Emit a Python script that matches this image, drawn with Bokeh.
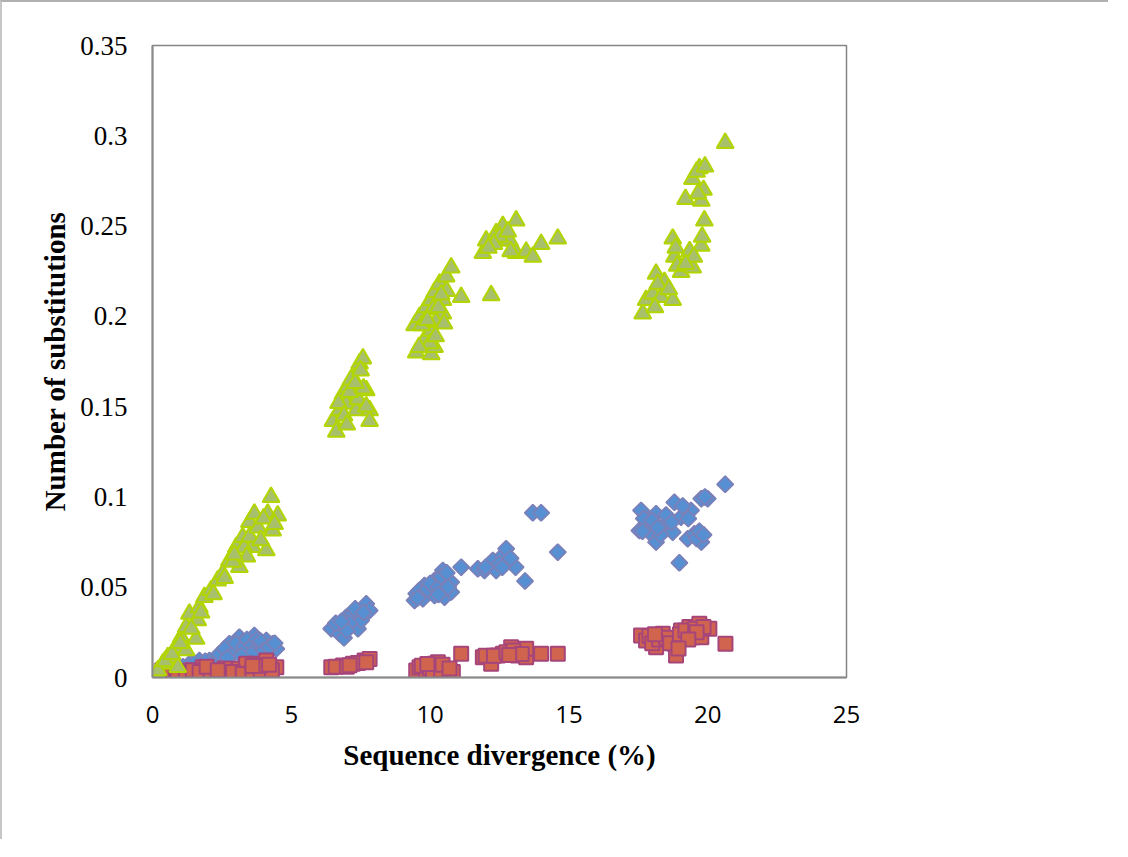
import math
from bokeh.plotting import figure
from bokeh.models import Range1d, FixedTicker
from bokeh.embed import file_html
from bokeh.resources import INLINE

# ---- data ----
blue_x = [0.61, 0.97, 1.33, 1.69, 2.05, 2.29, 2.53, 2.77, 3.02, 3.13, 3.25, 3.49, 3.67, 3.85, 4.1, 4.33, 4.46,
          1.1, 1.5, 1.9, 2.4, 2.6, 2.9, 3.0, 3.3, 3.4, 3.6, 3.75, 3.9, 4.0, 4.2, 3.55, 3.2, 2.7, 4.4,
          6.44, 6.74, 6.98, 6.98, 7.22, 7.4, 7.52, 7.7, 7.82,
          6.6, 6.9, 7.1, 7.3, 7.6, 7.0, 6.8,
          9.44, 9.5, 9.74, 9.8, 10.16, 10.16, 10.46, 10.52, 10.76, 10.76,
          9.6, 9.9, 10.0, 10.3, 10.4, 10.6, 10.3, 9.55, 10.65,
          11.12, 11.72, 11.96, 12.26, 12.38, 12.62, 12.74, 13.08, 13.42, 13.7, 14.0, 14.6,
          12.5, 12.6, 12.9, 12.0,
          17.54, 17.6, 17.78, 17.9, 18.14, 18.14, 18.38, 18.56, 18.74, 18.8, 18.98, 19.04, 19.28, 19.4,
          19.52, 19.77, 19.77, 20.0, 20.63,
          17.7, 18.0, 18.3, 18.5, 18.7, 19.1, 19.3, 19.6, 19.7, 19.85, 18.2, 17.65, 19.9]
blue_y = [0.0039, 0.0057, 0.0076, 0.0094, 0.0094, 0.0094, 0.0112, 0.0187, 0.0159, 0.0223, 0.0196, 0.015, 0.0233,
          0.0168, 0.0205, 0.0187, 0.0159,
          0.006, 0.008, 0.009, 0.013, 0.016, 0.013, 0.019, 0.017, 0.021, 0.018, 0.021, 0.02, 0.015, 0.017, 0.013,
          0.012, 0.011, 0.019,
          0.027, 0.0242, 0.0279, 0.0334, 0.0353, 0.027, 0.0316, 0.0408, 0.0371,
          0.03, 0.022, 0.03, 0.038, 0.036, 0.026, 0.031,
          0.0427, 0.0464, 0.0436, 0.051, 0.0537, 0.0454, 0.0593, 0.0445, 0.0528, 0.0473,
          0.048, 0.049, 0.052, 0.05, 0.056, 0.058, 0.046, 0.044, 0.05,
          0.0611, 0.0602, 0.0593, 0.0648, 0.0593, 0.0676, 0.0713, 0.0611, 0.0534, 0.0912, 0.0912, 0.0694,
          0.063, 0.061, 0.066, 0.061,
          0.0814, 0.0925, 0.0851, 0.0805, 0.0907, 0.075, 0.0833, 0.086, 0.0805, 0.097, 0.0635, 0.0888, 0.0768,
          0.0925, 0.0796, 0.099, 0.075, 0.099, 0.107,
          0.088, 0.087, 0.079, 0.09, 0.086, 0.095, 0.088, 0.077, 0.081, 0.079, 0.083, 0.081, 0.1]

red_x = [0.0, 0.25, 0.73, 1.09, 1.33, 1.57, 1.81, 1.93, 2.29, 2.77, 3.02, 3.13, 3.37, 3.49, 3.74, 4.1, 4.1, 4.46,
         0.5, 0.9, 1.2, 1.45, 1.7, 2.1, 2.5, 2.6, 2.9, 3.25, 3.6, 3.9, 4.3, 3.85, 4.2, 3.6, 1.95, 2.35, 0.35,
         6.44, 6.86, 7.22, 7.64, 7.82,
         6.6, 7.0, 7.4, 7.7, 7.1,
         9.5, 9.62, 9.86, 10.16, 10.28, 10.58, 10.82, 11.12,
         9.7, 10.0, 10.1, 10.4, 10.45, 9.9, 10.7,
         11.9, 12.2, 12.44, 12.62, 12.92, 13.16, 13.46, 13.46, 14.0, 14.6,
         12.0, 12.3, 12.75, 13.0, 13.3, 12.85,
         17.6, 17.78, 18.14, 18.38, 18.8, 18.86, 19.04, 19.34, 19.46, 19.7, 19.77, 20.06, 20.64,
         17.9, 18.0, 18.25, 18.5, 18.65, 19.0, 19.2, 19.55, 19.85, 19.6, 18.1, 19.3, 18.95]
red_y = [0.0, 0.002, 0.0, 0.001, 0.0039, 0.002, 0.0057, 0.002, 0.0, 0.0039, 0.001, 0.0048, 0.0076, 0.002, 0.0076,
         0.003, 0.0094, 0.0057,
         0.001, 0.003, 0.002, 0.004, 0.003, 0.002, 0.002, 0.005, 0.003, 0.002, 0.003, 0.004, 0.004, 0.0065, 0.007,
         0.0063, 0.006, 0.004, 0.004,
         0.0057, 0.0066, 0.0076, 0.0094, 0.0103,
         0.006, 0.006, 0.008, 0.0085, 0.0068,
         0.0039, 0.0057, 0.0039, 0.0076, 0.0085, 0.003, 0.003, 0.0131,
         0.0065, 0.005, 0.003, 0.004, 0.007, 0.0075, 0.005,
         0.0112, 0.0076, 0.0122, 0.0131, 0.0168, 0.0122, 0.0112, 0.0159, 0.0131, 0.0131,
         0.012, 0.012, 0.014, 0.015, 0.013, 0.0125,
         0.0233, 0.0205, 0.0168, 0.0242, 0.0187, 0.0122, 0.026, 0.0279, 0.0223, 0.0297, 0.0223, 0.027, 0.0187,
         0.023, 0.019, 0.021, 0.022, 0.019, 0.024, 0.026, 0.027, 0.028, 0.025, 0.024, 0.021, 0.016]

green_x = [0.01, 0.13, 0.37, 0.55, 0.85, 0.91, 1.03, 1.21, 1.21, 1.33, 1.57, 1.63, 1.69, 1.87, 2.11, 2.35, 2.53,
           2.77, 3.02, 3.13, 3.25, 3.49, 3.61, 3.67, 4.1, 4.15, 4.27, 4.33, 4.51,
           0.2, 0.45, 0.7, 1.0, 1.4, 1.75, 2.2, 2.6, 2.9, 3.3, 3.5, 3.8, 3.9, 4.0, 3.4, 4.4, 2.95,
           6.5, 6.62, 6.74, 6.86, 6.98, 7.04, 7.22, 7.34, 7.4, 7.46, 7.58, 7.7, 7.82, 7.82,
           6.7, 7.1, 7.15, 7.6, 7.3, 7.7, 6.9, 7.5, 7.0,
           9.44, 9.5, 9.62, 9.8, 9.86, 10.04, 10.04, 10.04, 10.1, 10.16, 10.16, 10.34, 10.46, 10.46, 10.58, 10.76,
           9.7, 10.2, 10.3, 10.6, 10.4, 9.9, 10.0, 10.2, 10.5, 9.6,
           11.12, 11.9, 12.02, 12.2, 12.38, 12.62, 12.68, 12.86, 13.1, 13.1, 13.46, 13.7, 14.0, 14.6,
           12.5, 12.8, 12.3, 12.9, 12.1,
           17.66, 17.78, 18.02, 18.14, 18.32, 18.44, 18.74, 18.74, 18.8, 19.04, 19.35, 19.46, 19.7, 19.77, 19.77,
           19.88, 20.63, 19.2, 19.45, 19.6, 19.85,
           18.2, 18.6, 18.9, 19.5, 19.65, 19.9, 18.85, 18.1, 19.2, 19.8]
green_y = [0.001, 0.002, 0.0076, 0.0112, 0.0168, 0.0057, 0.0223, 0.0279, 0.015, 0.0353, 0.0214, 0.0316, 0.0389,
           0.0445, 0.0482, 0.0537, 0.0574, 0.0648, 0.0722, 0.0611, 0.0777, 0.086, 0.0722, 0.0907, 0.0704, 0.0907,
           0.0999, 0.0814, 0.0897,
           0.004, 0.009, 0.013, 0.019, 0.027, 0.036, 0.046, 0.055, 0.064, 0.072, 0.078, 0.083, 0.076, 0.088,
           0.067, 0.085, 0.068,
           0.142, 0.136, 0.148, 0.157, 0.1516, 0.161, 0.166, 0.148, 0.154, 0.1738, 0.1766, 0.159, 0.148, 0.142,
           0.152, 0.158, 0.165, 0.16, 0.163, 0.15, 0.145, 0.17, 0.14,
           0.195, 0.180, 0.1996, 0.187, 0.205, 0.209, 0.192, 0.179, 0.204, 0.2135, 0.183, 0.218, 0.209, 0.2015,
           0.222, 0.227,
           0.195, 0.197, 0.205, 0.214, 0.212, 0.198, 0.185, 0.189, 0.196, 0.183,
           0.2107, 0.235, 0.242, 0.2116, 0.246, 0.250, 0.242, 0.242, 0.253, 0.235, 0.2357, 0.233, 0.240, 0.243,
           0.244, 0.247, 0.24, 0.236, 0.238,
           0.2015, 0.209, 0.2126, 0.2236, 0.2107, 0.219, 0.209, 0.243, 0.233, 0.2245, 0.236, 0.227, 0.282, 0.264,
           0.239, 0.253, 0.296, 0.265, 0.276, 0.280, 0.270,
           0.218, 0.215, 0.228, 0.233, 0.268, 0.283, 0.238, 0.205, 0.229, 0.244]

x_ticks = [0, 5, 10, 15, 20, 25]
x_tick_labels = ["0", "5", "10", "15", "20", "25"]
y_ticks = [0, 0.05, 0.1, 0.15, 0.2, 0.25, 0.3, 0.35]
y_tick_labels = ["0", "0.05", "0.1", "0.15", "0.2", "0.25", "0.3", "0.35"]

x_title = "Sequence divergence (%)"
y_title = "Number of substitutions"

# ---- figure ----
p = figure(width=1108, height=839, output_backend="svg", toolbar_location=None,
           x_range=Range1d(0, 25), y_range=Range1d(0, 0.35),
           min_border_left=150, min_border_right=264, min_border_top=43, min_border_bottom=164)
p.styles = {"border-left": "2px solid #c6c6c6", "border-top": "2px solid #b0b0b0"}

p.background_fill_color = "white"
p.border_fill_color = "white"
p.outline_line_color = "#858585"
p.outline_line_width = 1.5
p.xgrid.grid_line_color = None
p.ygrid.grid_line_color = None

p.xaxis.ticker = FixedTicker(ticks=x_ticks)
p.yaxis.ticker = FixedTicker(ticks=y_ticks)
p.xaxis.major_label_overrides = {t: l for t, l in zip(x_ticks, x_tick_labels)}
p.yaxis.major_label_overrides = {t: l for t, l in zip(y_ticks, y_tick_labels)}

for ax in (p.xaxis[0], p.yaxis[0]):
    ax.axis_line_color = "#8a8a8a"
    ax.axis_line_width = 2
    ax.major_tick_line_color = None
    ax.minor_tick_line_color = None
    ax.major_label_text_color = "black"
    ax.axis_label_text_color = "black"
    ax.axis_label_text_font = "Liberation Serif"
    ax.axis_label_text_font_style = "bold"
    ax.axis_label_text_font_size = "29px"

p.xaxis.major_label_text_font = "Open Sans"
p.xaxis.major_label_text_font_size = "24px"
p.xaxis.major_label_standoff = 22
p.xaxis.axis_label = x_title
p.xaxis.axis_label_standoff = 13

p.yaxis.major_label_text_font = "Liberation Serif"
p.yaxis.major_label_text_font_size = "27px"
p.yaxis.major_label_standoff = 19
p.yaxis.axis_label = y_title
p.yaxis.axis_label_standoff = 6

# ---- series ----
p.scatter(blue_x, blue_y, marker="square", size=11.5, angle=math.pi / 4,
          fill_color="#5790d2", line_color="#7b80b8", line_width=1.8)
p.scatter(red_x, red_y, marker="square", size=14,
          fill_color="#d0644f", line_color="#a6457a", line_width=2)
p.scatter(green_x, green_y, marker="triangle", size=17,
          fill_color="#a8bf6c", line_color="#b2d500", line_width=2)

open("out.html", "w").write(file_html(p, INLINE))
